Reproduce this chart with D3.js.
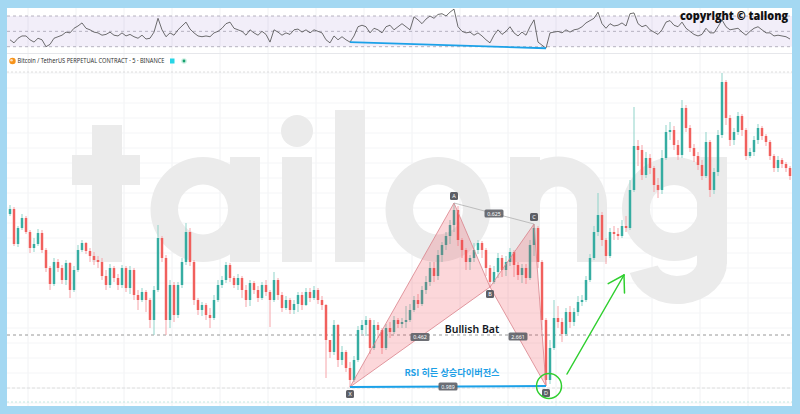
<!DOCTYPE html>
<html><head><meta charset="utf-8">
<script src="https://cdn.jsdelivr.net/npm/d3@7"></script>
<style>html,body{margin:0;padding:0;background:#a4d8f2;overflow:hidden}</style>
</head><body>
<svg id="c" width="800" height="414"></svg>
<script>
// ---- data (price units) ----
const firstOpen = 206;
const closes = [
211,176,192,202,188,172,176,187,170,152,
136,158,152,140,157,130,150,170,177,169,
164,160,158,144,135,152,142,135,152,132,
150,125,120,128,120,100,130,182,162,100,
135,105,135,158,188,158,120,110,115,105,
102,120,135,140,155,142,135,142,130,120,
137,130,122,135,128,120,140,125,112,120,
110,116,125,115,128,122,130,120,115,80,
68,95,60,68,52,40,60,90,95,100,
72,95,90,72,92,88,100,96,98,100,
110,120,116,130,138,152,144,165,175,184,
195,210,180,170,158,162,170,177,170,152,
138,148,162,150,158,168,155,145,152,142,
175,192,158,100,40,72,102,98,86,108,
98,108,118,120,140,162,188,205,180,164,
188,186,184,194,192,230,274,270,245,262,
252,235,230,262,288,290,275,265,312,292,
272,264,255,244,278,230,248,285,338,302,
280,288,304,290,264,268,280,292,284,278,
264,252,260,256,252,244];
const highs = [
215,213,194,206,204,190,182,191,190,172,
154,162,161,155,160,158,154,175,180,178,
172,168,164,162,150,156,154,146,155,154,
154,152,130,132,130,122,134,195,184,165,
140,138,138,162,197,192,160,122,118,117,
112,125,140,144,158,157,144,146,144,135,
140,139,134,138,140,130,148,142,128,124,
122,120,128,128,132,132,134,132,124,116,
80,100,96,74,70,58,64,94,100,104,
102,100,98,92,96,98,104,102,102,114,
116,124,126,134,144,158,158,170,178,188,
200,217,214,182,172,165,177,180,179,172,
155,154,167,165,164,172,170,158,156,156,
180,196,194,160,102,80,120,114,102,112,
114,112,124,125,144,166,194,227,208,182,
192,194,192,200,204,240,313,280,275,268,
266,254,242,270,295,298,294,280,320,315,
295,276,268,260,288,280,252,290,347,340,
305,292,308,306,292,272,284,296,294,286,
280,266,264,262,258,254];
const lows = [
204,174,173,190,186,167,168,174,167,148,
130,134,148,136,135,122,128,148,168,166,
158,155,152,140,130,132,138,130,132,128,
126,120,110,118,108,92,85,128,158,85,
92,98,102,132,155,154,115,105,104,100,
92,100,118,132,137,138,132,130,122,113,
114,126,118,120,124,93,118,120,108,110,
106,106,108,110,114,118,120,116,110,42,
62,65,53,55,48,33,38,58,86,84,
66,70,82,66,70,82,86,92,92,92,
98,108,112,114,126,134,138,140,158,170,
176,188,174,162,150,150,158,166,162,144,
133,136,142,143,144,154,143,140,137,136,
140,164,152,90,34,36,70,92,78,84,
92,94,104,114,118,138,160,184,174,156,
162,180,180,182,188,190,228,254,240,242,
246,228,222,226,260,280,270,260,262,288,
268,258,250,240,242,223,226,244,282,295,
274,275,285,284,260,262,264,276,280,274,
260,248,248,252,248,240];
const rsiValues = [
39,35,41,44,44,39,36,41,39,30,
33,41,43,45,49,48,54,57,61,54,
52,49,48,45,46,49,45,44,48,44,
46,43,41,45,40,41,49,67,52,43,
48,45,52,57,62,53,48,44,43,44,
43,48,50,54,60,62,54,52,50,45,
52,48,45,50,46,36,52,49,45,48,
46,52,53,49,52,48,52,50,48,39,
35,44,39,43,39,36,44,56,58,56,
48,54,52,48,56,58,52,56,60,56,
52,69,65,60,66,70,67,72,73,70,
75,79,56,50,48,49,45,48,44,39,
35,45,52,46,50,56,48,44,49,45,
56,65,36,32,28,48,49,50,48,52,
49,52,53,56,61,64,67,75,60,54,
60,57,58,61,57,73,74,60,56,58,
52,49,46,52,62,64,58,56,62,54,
50,46,44,46,54,48,48,56,65,56,
52,53,54,49,45,50,54,56,52,48,
48,44,45,44,43,40];
const rsiLevels = [70, 50, 30];
const patternPoints = [
  {k:"X", i:85, p:33, pos:"below"},
  {k:"A", i:111, p:217, pos:"above"},
  {k:"B", i:120, p:133, pos:"below"},
  {k:"C", i:131, p:196, pos:"above"},
  {k:"D", i:134, p:34, pos:"below"}];
const ratioLabels = [
  {a:"X", b:"B", t:"0.462"},
  {a:"A", b:"C", t:"0.625"},
  {a:"B", b:"D", t:"2.661"},
  {a:"X", b:"D", t:"0.989"}];
const rsiDivergence = [85, 134];
const refLevels = {dashed:85, top:348, low:32, bottom:18};
const annotations = {
  bat:{i:115.5, p:91, t:"Bullish Bat"},
  rsi:{i:110.5, p:47, t:"RSI 히든 상승다이버전스"},
  circle:{i:134.75, p:34},
  arrow:{i0:139.25, p0:46, i1:153.5, p1:145}
};
const legendText = "Bitcoin / TetherUS PERPETUAL CONTRACT · 5 · BINANCE";
const copyrightText = "copyright © tailong";

// ---- drawing ----
const N = closes.length;
const svg = d3.select('#c');
const x = d3.scaleLinear().domain([0, N-1]).range([10, 790]);
const y = d3.scaleLinear().domain([0, 340]).range([420, 80]);
const ry = d3.scaleLinear().domain([30, 70]).range([46.7, 16]);
const L = 7, R = 792, T = 8, B = 406;

svg.append('rect').attr('width',800).attr('height',414).attr('fill','#a4d8f2');
svg.append('rect').attr('x',L).attr('y',T).attr('width',R-L).attr('height',B-T).attr('fill','#fff');

const defs = svg.append('defs');
defs.append('clipPath').attr('id','cm').append('rect').attr('x',L).attr('y',54).attr('width',R-L).attr('height',B-54);
defs.append('clipPath').attr('id','cr').append('rect').attr('x',L).attr('y',T).attr('width',R-L).attr('height',46);

// grid
const grid = svg.append('g');
grid.selectAll('line.v').data(d3.range(4.5, N, 12)).join('line')
  .attr('x1',d=>x(d)).attr('x2',d=>x(d)).attr('y1',T).attr('y2',B)
  .attr('stroke','#f1f2f4').attr('stroke-width',1);
grid.selectAll('line.h').data(d3.range(2, 350, 15)).join('line')
  .attr('x1',L).attr('x2',R).attr('y1',d=>y(d)).attr('y2',d=>y(d))
  .attr('stroke','#f4f5f7').attr('stroke-width',1);

// RSI pane
const rp = svg.append('g').attr('clip-path','url(#cr)');
rp.append('rect').attr('x',L).attr('width',R-L).attr('y',ry(70)).attr('height',ry(30)-ry(70))
  .attr('fill','#7e57c2').attr('opacity',0.1);
rp.selectAll('line.lv').data(rsiLevels).join('line')
  .attr('x1',L).attr('x2',R).attr('y1',d=>ry(d)).attr('y2',d=>ry(d))
  .attr('stroke','#9b97a6').attr('stroke-width',0.7).attr('stroke-dasharray','3,3');
rp.append('path').datum(rsiValues)
  .attr('d', d3.line().x((d,i)=>x(i)).y(d=>ry(d)))
  .attr('fill','none').attr('stroke','#4a4a4a').attr('stroke-width',0.8);
rp.append('line')
  .attr('x1',x(rsiDivergence[0])).attr('y1',ry(rsiValues[rsiDivergence[0]]))
  .attr('x2',x(rsiDivergence[1])).attr('y2',ry(rsiValues[rsiDivergence[1]]))
  .attr('stroke','#1ba1e8').attr('stroke-width',1.8);

svg.append('text').attr('x',788).attr('y',20).attr('text-anchor','end')
  .attr('font-family','Open Sans').attr('font-weight',800).attr('font-size',11.5)
  .attr('textLength',108).attr('lengthAdjust','spacingAndGlyphs')
  .attr('fill','#111').text(copyrightText);

svg.append('line').attr('x1',L).attr('x2',R).attr('y1',53.5).attr('y2',53.5).attr('stroke','#e6e7eb');

// legend
const lg = svg.append('g');
lg.append('circle').attr('cx',12.5).attr('cy',61).attr('r',3.2).attr('fill','#f7931a');
lg.append('circle').attr('cx',11.5).attr('cy',60.2).attr('r',1.3).attr('fill','#fff').attr('opacity',0.7);
lg.append('text').attr('x',17.5).attr('y',63.3).attr('font-family','Noto Sans').attr('font-size',6.3)
  .attr('fill','#333').attr('textLength',147).attr('lengthAdjust','spacingAndGlyphs').text(legendText);
lg.append('rect').attr('x',170).attr('y',58.5).attr('width',4.5).attr('height',5).attr('fill','#27d5e6');
lg.append('circle').attr('cx',184).attr('cy',61).attr('r',2.8).attr('fill','#c9efe1');
lg.append('circle').attr('cx',184).attr('cy',61).attr('r',1.4).attr('fill','#16a06d');

// main pane
const mp = svg.append('g').attr('clip-path','url(#cm)');

// watermark "tailong"
const wm = mp.append('g').attr('fill','#ebebeb');
function ring(cx, cy, ro, ri){
  return `M${cx-ro},${cy}a${ro},${ro} 0 1,0 ${2*ro},0a${ro},${ro} 0 1,0 ${-2*ro},0Z` +
         `M${cx-ri},${cy}a${ri},${ri} 0 1,1 ${2*ri},0a${ri},${ri} 0 1,1 ${-2*ri},0Z`;
}
wm.append('rect').attr('x',92).attr('y',125).attr('width',30).attr('height',137);
wm.append('rect').attr('x',72).attr('y',155).attr('width',68).attr('height',30);
wm.append('path').attr('d',ring(203,209.5,52.5,25)).attr('fill-rule','evenodd');
wm.append('rect').attr('x',230).attr('y',157).attr('width',30).attr('height',105);
wm.append('rect').attr('x',282).attr('y',157).attr('width',30).attr('height',105);
wm.append('circle').attr('cx',297).attr('cy',131).attr('r',16);
wm.append('rect').attr('x',335).attr('y',110).attr('width',30).attr('height',152);
wm.append('path').attr('d',ring(438,209.5,52.5,25)).attr('fill-rule','evenodd');
wm.append('rect').attr('x',510).attr('y',157).attr('width',30).attr('height',105);
wm.append('path').attr('d','M510,262V205A48.5,48.5 0 0 1 607,205V262H577V205A18.5,18.5 0 0 0 540,205V262Z');
wm.append('path').attr('d',ring(674,209,52,24)).attr('fill-rule','evenodd');
wm.append('rect').attr('x',697).attr('y',157).attr('width',30).attr('height',107);
wm.append('path').attr('d','M727,262A49.5,42 0 0 1 629.7,272.9L657.7,265.6A20,14 0 0 0 697,262Z');

// reference lines
mp.append('line').attr('x1',L).attr('x2',R).attr('y1',y(refLevels.top)).attr('y2',y(refLevels.top))
  .attr('stroke','#d6d6d6').attr('stroke-dasharray','2,2').attr('stroke-width',0.8);
mp.append('line').attr('x1',L).attr('x2',R).attr('y1',y(refLevels.low)).attr('y2',y(refLevels.low))
  .attr('stroke','#d8d8d8').attr('stroke-dasharray','3,2').attr('stroke-width',0.8);
mp.append('line').attr('x1',L).attr('x2',R).attr('y1',y(refLevels.bottom)).attr('y2',y(refLevels.bottom))
  .attr('stroke','#b5e3da').attr('stroke-dasharray','2,2').attr('stroke-width',0.8);
mp.append('line').attr('x1',L).attr('x2',R).attr('y1',y(refLevels.dashed)).attr('y2',y(refLevels.dashed))
  .attr('stroke','#8c8c8c').attr('stroke-dasharray','3,3').attr('stroke-width',0.9);

// candles
const candles = closes.map((c,i)=>{
  const o = i===0 ? firstOpen : closes[i-1];
  return {i, o, c, h:Math.max(highs[i],o,c), l:Math.min(lows[i],o,c)};
});
const bw = (x(1)-x(0))*0.62;
const cg = mp.append('g');
cg.selectAll('line.w').data(candles).join('line')
  .attr('x1',d=>x(d.i)).attr('x2',d=>x(d.i)).attr('y1',d=>y(d.h)).attr('y2',d=>y(d.l))
  .attr('stroke',d=>d.c>=d.o?'#8fd3c9':'#f6a4a9').attr('stroke-width',1);
cg.selectAll('rect.b').data(candles).join('rect')
  .attr('x',d=>x(d.i)-bw/2).attr('width',bw)
  .attr('y',d=>y(Math.max(d.o,d.c))).attr('height',d=>Math.max(0.8, Math.abs(y(d.o)-y(d.c))))
  .attr('fill',d=>d.c>=d.o?'#26a69a':'#ef5350').attr('opacity',0.9);

// harmonic pattern
const P = {}; patternPoints.forEach(p=>P[p.k]=p);
const px = k=>x(P[k].i), py = k=>y(P[k].p);
const pg = mp.append('g');
[["X","A","B"],["B","C","D"]].forEach(tri=>{
  pg.append('path').attr('d', d3.line()(tri.map(k=>[px(k),py(k)])) + 'Z')
    .attr('fill','#f23645').attr('fill-opacity',0.2)
    .attr('stroke','#d9828a').attr('stroke-width',0.8);
});
pg.append('line').attr('x1',px('A')).attr('y1',py('A')).attr('x2',px('C')).attr('y2',py('C'))
  .attr('stroke','#b0b0b0').attr('stroke-width',0.8);
pg.append('line').attr('x1',px('X')).attr('y1',py('X')).attr('x2',px('D')).attr('y2',py('D'))
  .attr('stroke','#1ba1e8').attr('stroke-width',2);

// ratio labels
ratioLabels.forEach(r=>{
  const cx = (px(r.a)+px(r.b))/2, cy = (py(r.a)+py(r.b))/2;
  pg.append('rect').attr('x',cx-9.5).attr('y',cy-4).attr('width',19).attr('height',8).attr('rx',1.5)
    .attr('fill','#5d5f66').attr('opacity',0.9);
  pg.append('text').attr('x',cx).attr('y',cy+2).attr('text-anchor','middle')
    .attr('font-family','Noto Sans').attr('font-size',5.3).attr('fill','#fff').text(r.t);
});
// point labels
patternPoints.forEach(p=>{
  const cx = x(p.i), cy = y(p.p) + (p.pos==='above' ? -7 : 7);
  pg.append('rect').attr('x',cx-4).attr('y',cy-4).attr('width',8).attr('height',8).attr('rx',1.5)
    .attr('fill','#5d5f66');
  pg.append('text').attr('x',cx).attr('y',cy+2).attr('text-anchor','middle')
    .attr('font-family','Noto Sans').attr('font-size',5.5).attr('fill','#fff').text(p.k);
});

// annotations
const an = annotations;
mp.append('text').attr('x',x(an.bat.i)).attr('y',y(an.bat.p)+3.8).attr('text-anchor','middle')
  .attr('font-family','Noto Sans').attr('font-weight',600).attr('font-size',10.5).attr('fill','#131722')
  .text(an.bat.t);
mp.append('text').attr('x',x(an.rsi.i)).attr('y',y(an.rsi.p)+3.3).attr('text-anchor','middle')
  .attr('font-family','Noto Sans CJK KR').attr('font-weight',700).attr('font-size',9.2).attr('fill','#1d9fe6')
  .text(an.rsi.t);
mp.append('circle').attr('cx',x(an.circle.i)).attr('cy',y(an.circle.p)).attr('r',12.5)
  .attr('fill','none').attr('stroke','#2fcf2f').attr('stroke-width',1.5);
const ax0 = x(an.arrow.i0), ay0 = y(an.arrow.p0), ax1 = x(an.arrow.i1), ay1 = y(an.arrow.p1);
const ang = Math.atan2(ay1-ay0, ax1-ax0), hl = 18, spread = 0.55;
const ag = mp.append('g').attr('stroke','#2fcf2f').attr('stroke-width',1.5).attr('fill','none').attr('stroke-linecap','round');
ag.append('line').attr('x1',ax0).attr('y1',ay0).attr('x2',ax1).attr('y2',ay1);
[ang+Math.PI-spread, ang+Math.PI+spread].forEach(a=>{
  ag.append('line').attr('x1',ax1).attr('y1',ay1).attr('x2',ax1+hl*Math.cos(a)).attr('y2',ay1+hl*Math.sin(a));
});
</script>
</body></html>
